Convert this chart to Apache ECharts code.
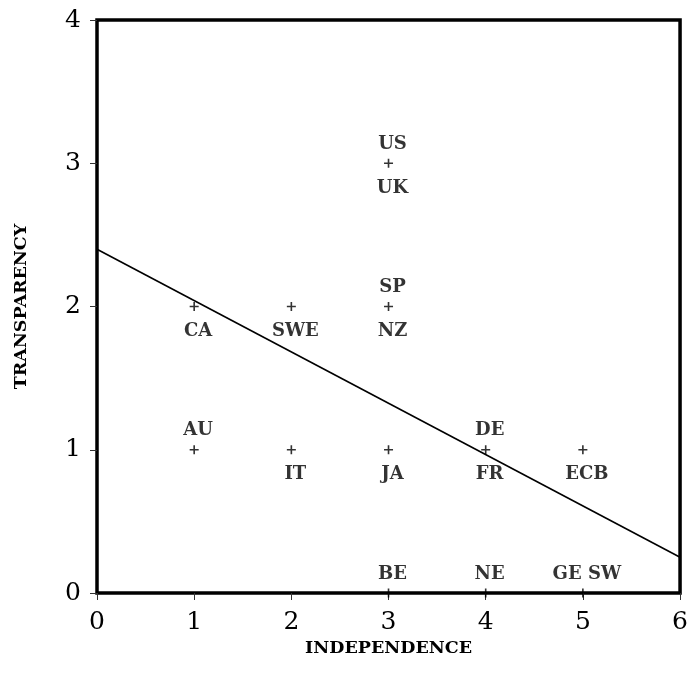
<!DOCTYPE html>
<html><head><meta charset="utf-8">
<script src="https://cdn.jsdelivr.net/npm/echarts@6/dist/echarts.min.js"></script>
<style>html,body{margin:0;padding:0;background:#fff}#c{width:691px;height:692px}</style>
</head><body><div id="c"></div>
<script>
const pointX = [3, 3, 1, 2, 1, 2, 3, 4, 5, 3, 4, 5];
const pointY = [3, 2, 2, 2, 1, 1, 1, 1, 1, 0, 0, 0];
const labelsAbove = ['US', 'SP', '', '', 'AU', '', '', 'DE', '', 'BE', 'NE', 'GE SW'];
const labelsBelow = ['UK', 'NZ', 'CA', 'SWE', '', 'IT', 'JA', 'FR', 'ECB', '', '', ''];
const fitLineX = [0, 6];
const fitLineY = [2.4, 0.25];
const xTicks = [0, 1, 2, 3, 4, 5, 6];
const yTicks = [0, 1, 2, 3, 4];

const serif = 'DejaVu Serif';
const points = pointX.map((x, i) => [x, pointY[i]]);
const abovePts = points.map((p, i) => ({value: p, name: labelsAbove[i]})).filter(d => d.name);
const belowPts = points.map((p, i) => ({value: p, name: labelsBelow[i]})).filter(d => d.name);
const plus = 'path://M4.1,0H5.9V10H4.1ZM0,4.1H10V5.9H0Z';
const labelStyle = {show: true, formatter: '{b}', color: '#000', fontFamily: serif, fontWeight: 'bold', fontSize: 18, offset: [4, 0]};

const chart = echarts.init(document.getElementById('c'));
chart.setOption({
  animation: false,
  grid: {left: 97, top: 20, right: 9, bottom: 99, show: true, borderColor: '#000', borderWidth: 3.5, backgroundColor: 'transparent'},
  xAxis: {
    type: 'value', min: 0, max: 6, interval: 1,
    name: 'INDEPENDENCE', nameLocation: 'middle', nameGap: 44,
    nameTextStyle: {fontFamily: serif, fontWeight: 'bold', fontSize: 17.5, color: '#000'},
    axisLine: {show: false},
    axisTick: {show: true, length: 7, lineStyle: {color: '#333', width: 1}},
    axisLabel: {fontFamily: serif, fontSize: 25, color: '#000', margin: 17, formatter: v => xTicks.includes(v) ? String(v) : ''},
    splitLine: {show: false}
  },
  yAxis: {
    type: 'value', min: 0, max: 4, interval: 1,
    name: 'TRANSPARENCY', nameLocation: 'middle', nameGap: 67, nameRotate: 90,
    nameTextStyle: {fontFamily: serif, fontWeight: 'bold', fontSize: 17.5, color: '#000'},
    axisLine: {show: false},
    axisTick: {show: true, length: 7, lineStyle: {color: '#333', width: 1}},
    axisLabel: {fontFamily: serif, fontSize: 25, color: '#000', margin: 16, formatter: v => yTicks.includes(v) ? String(v) : ''},
    splitLine: {show: false}
  },
  series: [
    {type: 'line', data: fitLineX.map((x, i) => [x, fitLineY[i]]), symbol: 'none', lineStyle: {color: '#000', width: 1.6}, z: 3},
    {type: 'scatter', data: points, symbol: plus, symbolSize: 9, itemStyle: {color: '#000'}, z: 4},
    {type: 'scatter', data: abovePts, symbolSize: 10, itemStyle: {color: 'transparent'}, label: Object.assign({position: 'top', distance: 5}, labelStyle), z: 5},
    {type: 'scatter', data: belowPts, symbolSize: 10, itemStyle: {color: 'transparent'}, label: Object.assign({position: 'bottom', distance: 11}, labelStyle), z: 5}
  ]
});
</script></body></html>
